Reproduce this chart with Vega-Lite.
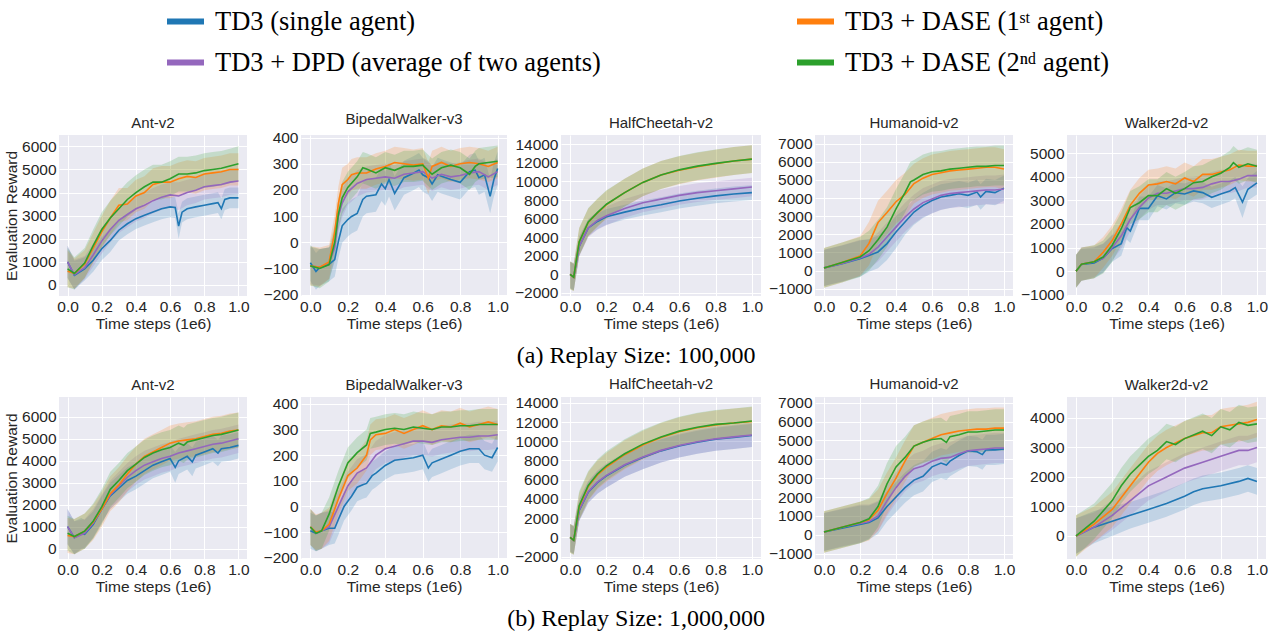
{
"$schema":"https://vega.github.io/schema/vega-lite/v6.json",
"background":"white",
"padding":{"left":4,"top":0,"right":4,"bottom":4},
"datasets":{
"a1":[
{"s":"T","x":0,"y":1000,"l":300,"h":1700},{"s":"T","x":0.04,"y":420,"l":-200,"h":1050},{"s":"T","x":0.1,"y":700,"l":200,"h":1200},{"s":"T","x":0.15,"y":1070,"l":570,"h":1570},{"s":"T","x":0.2,"y":1570,"l":1070,"h":2070},{"s":"T","x":0.25,"y":1930,"l":1430,"h":2430},{"s":"T","x":0.3,"y":2370,"l":1920,"h":2820},{"s":"T","x":0.35,"y":2650,"l":2200,"h":3100},{"s":"T","x":0.4,"y":2870,"l":2420,"h":3320},{"s":"T","x":0.45,"y":3020,"l":2570,"h":3470},{"s":"T","x":0.5,"y":3160,"l":2710,"h":3610},{"s":"T","x":0.55,"y":3300,"l":2850,"h":3750},{"s":"T","x":0.6,"y":3380,"l":2930,"h":3830},{"s":"T","x":0.63,"y":3350,"l":2900,"h":3800},{"s":"T","x":0.65,"y":2550,"l":2000,"h":3100},{"s":"T","x":0.67,"y":3150,"l":2700,"h":3600},{"s":"T","x":0.7,"y":3300,"l":2850,"h":3750},{"s":"T","x":0.75,"y":3380,"l":2930,"h":3830},{"s":"T","x":0.8,"y":3450,"l":3000,"h":3900},{"s":"T","x":0.85,"y":3520,"l":3070,"h":3970},{"s":"T","x":0.88,"y":3560,"l":3110,"h":4010},{"s":"T","x":0.9,"y":3300,"l":2850,"h":3750},{"s":"T","x":0.92,"y":3700,"l":3250,"h":4150},{"s":"T","x":0.95,"y":3770,"l":3320,"h":4220},{"s":"T","x":1,"y":3770,"l":3320,"h":4220},
{"s":"P","x":0,"y":1000,"l":300,"h":1700},{"s":"P","x":0.04,"y":450,"l":-200,"h":1100},{"s":"P","x":0.1,"y":750,"l":250,"h":1250},{"s":"P","x":0.15,"y":1300,"l":800,"h":1800},{"s":"P","x":0.2,"y":1900,"l":1350,"h":2450},{"s":"P","x":0.25,"y":2400,"l":1850,"h":2950},{"s":"P","x":0.3,"y":2800,"l":2250,"h":3350},{"s":"P","x":0.35,"y":3050,"l":2500,"h":3600},{"s":"P","x":0.4,"y":3300,"l":2750,"h":3850},{"s":"P","x":0.45,"y":3450,"l":2900,"h":4000},{"s":"P","x":0.5,"y":3650,"l":3100,"h":4200},{"s":"P","x":0.55,"y":3800,"l":3250,"h":4350},{"s":"P","x":0.6,"y":3900,"l":3350,"h":4450},{"s":"P","x":0.65,"y":3850,"l":3250,"h":4450},{"s":"P","x":0.7,"y":4000,"l":3450,"h":4550},{"s":"P","x":0.75,"y":4100,"l":3550,"h":4650},{"s":"P","x":0.8,"y":4250,"l":3700,"h":4800},{"s":"P","x":0.85,"y":4300,"l":3750,"h":4850},{"s":"P","x":0.9,"y":4350,"l":3800,"h":4900},{"s":"P","x":0.95,"y":4450,"l":3900,"h":5000},{"s":"P","x":1,"y":4500,"l":3950,"h":5050},
{"s":"O","x":0,"y":600,"l":-100,"h":1500},{"s":"O","x":0.04,"y":500,"l":-150,"h":1150},{"s":"O","x":0.1,"y":900,"l":300,"h":1500},{"s":"O","x":0.15,"y":1600,"l":950,"h":2250},{"s":"O","x":0.2,"y":2300,"l":1600,"h":3000},{"s":"O","x":0.25,"y":2900,"l":2150,"h":3650},{"s":"O","x":0.3,"y":3450,"l":2700,"h":4200},{"s":"O","x":0.35,"y":3500,"l":2800,"h":4200},{"s":"O","x":0.4,"y":3850,"l":3150,"h":4550},{"s":"O","x":0.45,"y":4000,"l":3300,"h":4700},{"s":"O","x":0.5,"y":4350,"l":3650,"h":5050},{"s":"O","x":0.55,"y":4450,"l":3750,"h":5150},{"s":"O","x":0.6,"y":4450,"l":3750,"h":5150},{"s":"O","x":0.65,"y":4600,"l":3900,"h":5300},{"s":"O","x":0.7,"y":4700,"l":4000,"h":5400},{"s":"O","x":0.75,"y":4650,"l":3950,"h":5350},{"s":"O","x":0.8,"y":4800,"l":4100,"h":5500},{"s":"O","x":0.85,"y":4850,"l":4150,"h":5550},{"s":"O","x":0.9,"y":4900,"l":4200,"h":5600},{"s":"O","x":0.95,"y":5000,"l":4300,"h":5700},{"s":"O","x":1,"y":5000,"l":4300,"h":5700},
{"s":"G","x":0,"y":700,"l":-100,"h":1600},{"s":"G","x":0.04,"y":500,"l":-200,"h":1200},{"s":"G","x":0.1,"y":950,"l":300,"h":1600},{"s":"G","x":0.15,"y":1700,"l":1000,"h":2400},{"s":"G","x":0.2,"y":2400,"l":1650,"h":3150},{"s":"G","x":0.25,"y":2900,"l":2150,"h":3650},{"s":"G","x":0.3,"y":3300,"l":2550,"h":4050},{"s":"G","x":0.35,"y":3700,"l":2950,"h":4450},{"s":"G","x":0.4,"y":4000,"l":3250,"h":4750},{"s":"G","x":0.45,"y":4250,"l":3500,"h":5000},{"s":"G","x":0.5,"y":4450,"l":3700,"h":5200},{"s":"G","x":0.55,"y":4450,"l":3700,"h":5200},{"s":"G","x":0.6,"y":4600,"l":3850,"h":5350},{"s":"G","x":0.65,"y":4800,"l":4050,"h":5550},{"s":"G","x":0.7,"y":4800,"l":4050,"h":5550},{"s":"G","x":0.75,"y":4850,"l":4100,"h":5600},{"s":"G","x":0.8,"y":4950,"l":4200,"h":5700},{"s":"G","x":0.85,"y":5000,"l":4250,"h":5750},{"s":"G","x":0.9,"y":5050,"l":4300,"h":5800},{"s":"G","x":0.95,"y":5150,"l":4400,"h":5900},{"s":"G","x":1,"y":5250,"l":4500,"h":6000}
],
"a2":[
{"s":"T","x":0,"y":-78,"l":-148,"h":-8},{"s":"T","x":0.03,"y":-111,"l":-181,"h":-41},{"s":"T","x":0.05,"y":-96,"l":-166,"h":-26},{"s":"T","x":0.1,"y":-84,"l":-149,"h":-19},{"s":"T","x":0.13,"y":-66,"l":-131,"h":-1},{"s":"T","x":0.15,"y":5,"l":-60,"h":70},{"s":"T","x":0.17,"y":63,"l":-2,"h":128},{"s":"T","x":0.2,"y":87,"l":22,"h":152},{"s":"T","x":0.22,"y":99,"l":34,"h":164},{"s":"T","x":0.25,"y":110,"l":45,"h":175},{"s":"T","x":0.28,"y":164,"l":99,"h":229},{"s":"T","x":0.3,"y":176,"l":111,"h":241},{"s":"T","x":0.35,"y":182,"l":117,"h":247},{"s":"T","x":0.38,"y":223,"l":158,"h":288},{"s":"T","x":0.4,"y":205,"l":140,"h":270},{"s":"T","x":0.42,"y":240,"l":175,"h":305},{"s":"T","x":0.45,"y":187,"l":122,"h":252},{"s":"T","x":0.5,"y":247,"l":182,"h":312},{"s":"T","x":0.55,"y":264,"l":199,"h":329},{"s":"T","x":0.58,"y":276,"l":211,"h":341},{"s":"T","x":0.6,"y":258,"l":193,"h":323},{"s":"T","x":0.63,"y":247,"l":182,"h":312},{"s":"T","x":0.65,"y":223,"l":158,"h":288},{"s":"T","x":0.68,"y":258,"l":193,"h":323},{"s":"T","x":0.7,"y":252,"l":187,"h":317},{"s":"T","x":0.75,"y":240,"l":175,"h":305},{"s":"T","x":0.8,"y":229,"l":164,"h":294},{"s":"T","x":0.85,"y":270,"l":205,"h":335},{"s":"T","x":0.88,"y":276,"l":211,"h":341},{"s":"T","x":0.9,"y":247,"l":182,"h":312},{"s":"T","x":0.93,"y":258,"l":193,"h":323},{"s":"T","x":0.96,"y":176,"l":111,"h":241},{"s":"T","x":0.98,"y":240,"l":175,"h":305},{"s":"T","x":1,"y":282,"l":217,"h":347},
{"s":"P","x":0,"y":-90,"l":-160,"h":-20},{"s":"P","x":0.05,"y":-95,"l":-165,"h":-25},{"s":"P","x":0.1,"y":-80,"l":-140,"h":-20},{"s":"P","x":0.13,"y":-20,"l":-75,"h":35},{"s":"P","x":0.15,"y":100,"l":45,"h":155},{"s":"P","x":0.17,"y":150,"l":95,"h":205},{"s":"P","x":0.2,"y":193,"l":143,"h":243},{"s":"P","x":0.25,"y":225,"l":175,"h":275},{"s":"P","x":0.3,"y":240,"l":190,"h":290},{"s":"P","x":0.35,"y":245,"l":195,"h":295},{"s":"P","x":0.4,"y":250,"l":200,"h":300},{"s":"P","x":0.45,"y":245,"l":195,"h":295},{"s":"P","x":0.5,"y":260,"l":210,"h":310},{"s":"P","x":0.55,"y":265,"l":215,"h":315},{"s":"P","x":0.6,"y":270,"l":220,"h":320},{"s":"P","x":0.65,"y":245,"l":195,"h":295},{"s":"P","x":0.7,"y":260,"l":210,"h":310},{"s":"P","x":0.75,"y":250,"l":200,"h":300},{"s":"P","x":0.8,"y":255,"l":205,"h":305},{"s":"P","x":0.85,"y":265,"l":215,"h":315},{"s":"P","x":0.9,"y":270,"l":220,"h":320},{"s":"P","x":0.95,"y":250,"l":200,"h":300},{"s":"P","x":1,"y":270,"l":220,"h":320},
{"s":"O","x":0,"y":-90,"l":-165,"h":-15},{"s":"O","x":0.05,"y":-95,"l":-170,"h":-20},{"s":"O","x":0.1,"y":-75,"l":-140,"h":-10},{"s":"O","x":0.13,"y":40,"l":-25,"h":105},{"s":"O","x":0.15,"y":150,"l":85,"h":215},{"s":"O","x":0.17,"y":220,"l":155,"h":285},{"s":"O","x":0.2,"y":240,"l":180,"h":300},{"s":"O","x":0.22,"y":258,"l":198,"h":318},{"s":"O","x":0.25,"y":265,"l":205,"h":325},{"s":"O","x":0.3,"y":265,"l":205,"h":325},{"s":"O","x":0.35,"y":280,"l":220,"h":340},{"s":"O","x":0.4,"y":290,"l":230,"h":350},{"s":"O","x":0.45,"y":305,"l":245,"h":365},{"s":"O","x":0.5,"y":300,"l":240,"h":360},{"s":"O","x":0.55,"y":295,"l":235,"h":355},{"s":"O","x":0.6,"y":300,"l":240,"h":360},{"s":"O","x":0.63,"y":245,"l":185,"h":305},{"s":"O","x":0.65,"y":290,"l":230,"h":350},{"s":"O","x":0.7,"y":305,"l":245,"h":365},{"s":"O","x":0.75,"y":290,"l":230,"h":350},{"s":"O","x":0.8,"y":300,"l":240,"h":360},{"s":"O","x":0.85,"y":305,"l":245,"h":365},{"s":"O","x":0.9,"y":300,"l":240,"h":360},{"s":"O","x":0.95,"y":290,"l":230,"h":350},{"s":"O","x":1,"y":305,"l":245,"h":365},
{"s":"G","x":0,"y":-90,"l":-165,"h":-15},{"s":"G","x":0.05,"y":-100,"l":-175,"h":-25},{"s":"G","x":0.1,"y":-85,"l":-150,"h":-20},{"s":"G","x":0.13,"y":0,"l":-65,"h":65},{"s":"G","x":0.15,"y":110,"l":50,"h":170},{"s":"G","x":0.17,"y":170,"l":110,"h":230},{"s":"G","x":0.2,"y":210,"l":150,"h":270},{"s":"G","x":0.25,"y":250,"l":190,"h":310},{"s":"G","x":0.28,"y":285,"l":225,"h":345},{"s":"G","x":0.3,"y":280,"l":220,"h":340},{"s":"G","x":0.35,"y":265,"l":205,"h":325},{"s":"G","x":0.4,"y":285,"l":225,"h":345},{"s":"G","x":0.45,"y":275,"l":215,"h":335},{"s":"G","x":0.5,"y":290,"l":230,"h":350},{"s":"G","x":0.55,"y":290,"l":230,"h":350},{"s":"G","x":0.6,"y":295,"l":235,"h":355},{"s":"G","x":0.65,"y":260,"l":200,"h":320},{"s":"G","x":0.7,"y":285,"l":225,"h":345},{"s":"G","x":0.75,"y":295,"l":235,"h":355},{"s":"G","x":0.8,"y":285,"l":225,"h":345},{"s":"G","x":0.85,"y":260,"l":200,"h":320},{"s":"G","x":0.88,"y":290,"l":230,"h":350},{"s":"G","x":0.9,"y":300,"l":240,"h":360},{"s":"G","x":0.95,"y":305,"l":245,"h":365},{"s":"G","x":1,"y":310,"l":250,"h":370}
],
"a3":[
{"s":"T","x":0,"y":0,"l":-1500,"h":1400},{"s":"T","x":0.02,"y":-300,"l":-1700,"h":1100},{"s":"T","x":0.05,"y":3000,"l":2000,"h":4000},{"s":"T","x":0.1,"y":5000,"l":4100,"h":5900},{"s":"T","x":0.15,"y":5700,"l":4850,"h":6550},{"s":"T","x":0.2,"y":6200,"l":5350,"h":7050},{"s":"T","x":0.3,"y":6700,"l":5900,"h":7500},{"s":"T","x":0.4,"y":7150,"l":6350,"h":7950},{"s":"T","x":0.5,"y":7500,"l":6700,"h":8300},{"s":"T","x":0.6,"y":7900,"l":7100,"h":8700},{"s":"T","x":0.7,"y":8200,"l":7400,"h":9000},{"s":"T","x":0.8,"y":8450,"l":7650,"h":9250},{"s":"T","x":0.9,"y":8650,"l":7850,"h":9450},{"s":"T","x":1,"y":8800,"l":8000,"h":9600},
{"s":"P","x":0,"y":0,"l":-1500,"h":1400},{"s":"P","x":0.02,"y":-300,"l":-1700,"h":1100},{"s":"P","x":0.05,"y":3000,"l":1900,"h":4100},{"s":"P","x":0.1,"y":5000,"l":4000,"h":6000},{"s":"P","x":0.15,"y":5800,"l":4800,"h":6800},{"s":"P","x":0.2,"y":6300,"l":5300,"h":7300},{"s":"P","x":0.3,"y":7100,"l":6100,"h":8100},{"s":"P","x":0.4,"y":7700,"l":6700,"h":8700},{"s":"P","x":0.5,"y":8100,"l":7100,"h":9100},{"s":"P","x":0.6,"y":8500,"l":7500,"h":9500},{"s":"P","x":0.7,"y":8800,"l":7800,"h":9800},{"s":"P","x":0.8,"y":9000,"l":8000,"h":10000},{"s":"P","x":0.9,"y":9200,"l":8200,"h":10200},{"s":"P","x":1,"y":9400,"l":8400,"h":10400},
{"s":"O","x":0,"y":0,"l":-1600,"h":1400},{"s":"O","x":0.02,"y":-300,"l":-1800,"h":1200},{"s":"O","x":0.05,"y":3500,"l":2000,"h":5000},{"s":"O","x":0.1,"y":5600,"l":4100,"h":7100},{"s":"O","x":0.15,"y":6600,"l":5100,"h":8100},{"s":"O","x":0.2,"y":7500,"l":6000,"h":9000},{"s":"O","x":0.3,"y":8800,"l":7300,"h":10300},{"s":"O","x":0.4,"y":9900,"l":8400,"h":11400},{"s":"O","x":0.5,"y":10700,"l":9200,"h":12200},{"s":"O","x":0.6,"y":11200,"l":9700,"h":12700},{"s":"O","x":0.7,"y":11600,"l":10100,"h":13100},{"s":"O","x":0.8,"y":11900,"l":10400,"h":13400},{"s":"O","x":0.9,"y":12200,"l":10700,"h":13700},{"s":"O","x":1,"y":12400,"l":10900,"h":13900},
{"s":"G","x":0,"y":0,"l":-1600,"h":1400},{"s":"G","x":0.02,"y":-300,"l":-1800,"h":1200},{"s":"G","x":0.05,"y":3500,"l":2000,"h":5000},{"s":"G","x":0.1,"y":5650,"l":4150,"h":7150},{"s":"G","x":0.15,"y":6650,"l":5150,"h":8150},{"s":"G","x":0.2,"y":7550,"l":6050,"h":9050},{"s":"G","x":0.3,"y":8800,"l":7300,"h":10300},{"s":"G","x":0.4,"y":9900,"l":8400,"h":11400},{"s":"G","x":0.5,"y":10700,"l":9200,"h":12200},{"s":"G","x":0.6,"y":11250,"l":9750,"h":12750},{"s":"G","x":0.7,"y":11650,"l":10150,"h":13150},{"s":"G","x":0.8,"y":11950,"l":10450,"h":13450},{"s":"G","x":0.9,"y":12200,"l":10700,"h":13700},{"s":"G","x":1,"y":12400,"l":10900,"h":13900}
],
"a4":[
{"s":"T","x":0,"y":150,"l":-850,"h":1150},{"s":"T","x":0.1,"y":380,"l":-620,"h":1380},{"s":"T","x":0.2,"y":660,"l":-340,"h":1660},{"s":"T","x":0.25,"y":840,"l":-60,"h":1740},{"s":"T","x":0.3,"y":1030,"l":130,"h":1930},{"s":"T","x":0.35,"y":1490,"l":590,"h":2390},{"s":"T","x":0.4,"y":2130,"l":1230,"h":3030},{"s":"T","x":0.45,"y":2680,"l":1980,"h":3380},{"s":"T","x":0.5,"y":3230,"l":2530,"h":3930},{"s":"T","x":0.55,"y":3600,"l":2900,"h":4300},{"s":"T","x":0.6,"y":3870,"l":3170,"h":4570},{"s":"T","x":0.65,"y":4060,"l":3360,"h":4760},{"s":"T","x":0.7,"y":4150,"l":3450,"h":4850},{"s":"T","x":0.75,"y":4240,"l":3540,"h":4940},{"s":"T","x":0.8,"y":4150,"l":3450,"h":4850},{"s":"T","x":0.85,"y":4330,"l":3630,"h":5030},{"s":"T","x":0.87,"y":4060,"l":3360,"h":4760},{"s":"T","x":0.9,"y":4370,"l":3670,"h":5070},{"s":"T","x":0.95,"y":4300,"l":3600,"h":5000},{"s":"T","x":1,"y":4550,"l":3850,"h":5250},
{"s":"P","x":0,"y":150,"l":-850,"h":1150},{"s":"P","x":0.1,"y":400,"l":-600,"h":1400},{"s":"P","x":0.2,"y":700,"l":-300,"h":1700},{"s":"P","x":0.25,"y":900,"l":100,"h":1700},{"s":"P","x":0.3,"y":1300,"l":500,"h":2100},{"s":"P","x":0.35,"y":1850,"l":1050,"h":2650},{"s":"P","x":0.4,"y":2400,"l":1600,"h":3200},{"s":"P","x":0.45,"y":2950,"l":2150,"h":3750},{"s":"P","x":0.5,"y":3400,"l":2600,"h":4200},{"s":"P","x":0.55,"y":3750,"l":2950,"h":4550},{"s":"P","x":0.6,"y":3950,"l":3150,"h":4750},{"s":"P","x":0.65,"y":4150,"l":3350,"h":4950},{"s":"P","x":0.7,"y":4250,"l":3450,"h":5050},{"s":"P","x":0.75,"y":4300,"l":3500,"h":5100},{"s":"P","x":0.8,"y":4350,"l":3550,"h":5150},{"s":"P","x":0.85,"y":4400,"l":3600,"h":5200},{"s":"P","x":0.9,"y":4450,"l":3650,"h":5250},{"s":"P","x":0.95,"y":4450,"l":3650,"h":5250},{"s":"P","x":1,"y":4500,"l":3700,"h":5300},
{"s":"O","x":0,"y":150,"l":-950,"h":1250},{"s":"O","x":0.1,"y":450,"l":-650,"h":1550},{"s":"O","x":0.2,"y":800,"l":-300,"h":1900},{"s":"O","x":0.25,"y":1500,"l":300,"h":2700},{"s":"O","x":0.3,"y":2650,"l":1450,"h":3850},{"s":"O","x":0.35,"y":3200,"l":2000,"h":4400},{"s":"O","x":0.4,"y":3800,"l":2600,"h":5000},{"s":"O","x":0.45,"y":4200,"l":3000,"h":5400},{"s":"O","x":0.5,"y":4800,"l":3700,"h":5900},{"s":"O","x":0.55,"y":5100,"l":4000,"h":6200},{"s":"O","x":0.6,"y":5300,"l":4200,"h":6400},{"s":"O","x":0.65,"y":5400,"l":4300,"h":6500},{"s":"O","x":0.7,"y":5500,"l":4400,"h":6600},{"s":"O","x":0.75,"y":5550,"l":4450,"h":6650},{"s":"O","x":0.8,"y":5600,"l":4500,"h":6700},{"s":"O","x":0.85,"y":5650,"l":4550,"h":6750},{"s":"O","x":0.9,"y":5700,"l":4600,"h":6800},{"s":"O","x":0.95,"y":5700,"l":4600,"h":6800},{"s":"O","x":1,"y":5600,"l":4500,"h":6700},
{"s":"G","x":0,"y":150,"l":-950,"h":1250},{"s":"G","x":0.1,"y":450,"l":-650,"h":1550},{"s":"G","x":0.2,"y":750,"l":-350,"h":1850},{"s":"G","x":0.25,"y":1100,"l":0,"h":2200},{"s":"G","x":0.3,"y":1700,"l":600,"h":2800},{"s":"G","x":0.35,"y":2400,"l":1300,"h":3500},{"s":"G","x":0.4,"y":3400,"l":2300,"h":4500},{"s":"G","x":0.45,"y":4300,"l":3200,"h":5400},{"s":"G","x":0.48,"y":4900,"l":3800,"h":6000},{"s":"G","x":0.5,"y":5000,"l":3900,"h":6100},{"s":"G","x":0.55,"y":5300,"l":4200,"h":6400},{"s":"G","x":0.6,"y":5450,"l":4350,"h":6550},{"s":"G","x":0.65,"y":5500,"l":4400,"h":6600},{"s":"G","x":0.7,"y":5600,"l":4500,"h":6700},{"s":"G","x":0.75,"y":5650,"l":4550,"h":6750},{"s":"G","x":0.8,"y":5700,"l":4600,"h":6800},{"s":"G","x":0.85,"y":5750,"l":4650,"h":6850},{"s":"G","x":0.9,"y":5750,"l":4650,"h":6850},{"s":"G","x":0.95,"y":5800,"l":4700,"h":6900},{"s":"G","x":1,"y":5800,"l":4700,"h":6900}
],
"a5":[
{"s":"T","x":0,"y":0,"l":-700,"h":700},{"s":"T","x":0.03,"y":285,"l":-400,"h":950},{"s":"T","x":0.1,"y":350,"l":-300,"h":1000},{"s":"T","x":0.15,"y":560,"l":-50,"h":1170},{"s":"T","x":0.2,"y":960,"l":400,"h":1520},{"s":"T","x":0.25,"y":1170,"l":650,"h":1690},{"s":"T","x":0.28,"y":1840,"l":1340,"h":2340},{"s":"T","x":0.3,"y":1700,"l":1200,"h":2200},{"s":"T","x":0.35,"y":2660,"l":2160,"h":3160},{"s":"T","x":0.4,"y":2660,"l":2160,"h":3160},{"s":"T","x":0.45,"y":3200,"l":2750,"h":3650},{"s":"T","x":0.5,"y":3060,"l":2610,"h":3510},{"s":"T","x":0.55,"y":3330,"l":2880,"h":3780},{"s":"T","x":0.6,"y":3270,"l":2820,"h":3720},{"s":"T","x":0.65,"y":3400,"l":2950,"h":3850},{"s":"T","x":0.7,"y":3330,"l":2880,"h":3780},{"s":"T","x":0.75,"y":3130,"l":2680,"h":3580},{"s":"T","x":0.8,"y":3270,"l":2820,"h":3720},{"s":"T","x":0.85,"y":3400,"l":2950,"h":3850},{"s":"T","x":0.88,"y":3540,"l":3090,"h":3990},{"s":"T","x":0.92,"y":2930,"l":2250,"h":3600},{"s":"T","x":0.95,"y":3470,"l":3000,"h":3950},{"s":"T","x":1,"y":3740,"l":3250,"h":4250},
{"s":"P","x":0,"y":0,"l":-700,"h":700},{"s":"P","x":0.03,"y":300,"l":-400,"h":1000},{"s":"P","x":0.1,"y":400,"l":-250,"h":1050},{"s":"P","x":0.15,"y":550,"l":-50,"h":1150},{"s":"P","x":0.2,"y":1000,"l":450,"h":1550},{"s":"P","x":0.25,"y":1500,"l":950,"h":2050},{"s":"P","x":0.3,"y":2200,"l":1700,"h":2700},{"s":"P","x":0.35,"y":2700,"l":2200,"h":3200},{"s":"P","x":0.4,"y":3100,"l":2600,"h":3600},{"s":"P","x":0.45,"y":3300,"l":2800,"h":3800},{"s":"P","x":0.5,"y":3300,"l":2800,"h":3800},{"s":"P","x":0.55,"y":3400,"l":2900,"h":3900},{"s":"P","x":0.6,"y":3500,"l":3000,"h":4000},{"s":"P","x":0.65,"y":3500,"l":3000,"h":4000},{"s":"P","x":0.7,"y":3550,"l":3050,"h":4050},{"s":"P","x":0.75,"y":3700,"l":3200,"h":4200},{"s":"P","x":0.8,"y":3800,"l":3300,"h":4300},{"s":"P","x":0.85,"y":3800,"l":3300,"h":4300},{"s":"P","x":0.9,"y":3900,"l":3400,"h":4400},{"s":"P","x":0.95,"y":4050,"l":3550,"h":4550},{"s":"P","x":1,"y":4050,"l":3550,"h":4550},
{"s":"O","x":0,"y":0,"l":-700,"h":700},{"s":"O","x":0.03,"y":300,"l":-400,"h":1000},{"s":"O","x":0.1,"y":400,"l":-300,"h":1100},{"s":"O","x":0.15,"y":800,"l":150,"h":1450},{"s":"O","x":0.2,"y":1300,"l":650,"h":1950},{"s":"O","x":0.25,"y":2000,"l":1350,"h":2650},{"s":"O","x":0.3,"y":2800,"l":2150,"h":3450},{"s":"O","x":0.35,"y":3300,"l":2650,"h":3950},{"s":"O","x":0.4,"y":3650,"l":3000,"h":4300},{"s":"O","x":0.45,"y":3700,"l":3050,"h":4350},{"s":"O","x":0.5,"y":3800,"l":3150,"h":4450},{"s":"O","x":0.55,"y":3700,"l":3050,"h":4350},{"s":"O","x":0.6,"y":3950,"l":3300,"h":4600},{"s":"O","x":0.65,"y":3800,"l":3150,"h":4450},{"s":"O","x":0.7,"y":4100,"l":3450,"h":4750},{"s":"O","x":0.75,"y":4100,"l":3450,"h":4750},{"s":"O","x":0.8,"y":4200,"l":3550,"h":4850},{"s":"O","x":0.85,"y":4300,"l":3650,"h":4950},{"s":"O","x":0.9,"y":4500,"l":3850,"h":5150},{"s":"O","x":0.95,"y":4450,"l":3800,"h":5100},{"s":"O","x":1,"y":4450,"l":3800,"h":5100},
{"s":"G","x":0,"y":0,"l":-700,"h":700},{"s":"G","x":0.03,"y":300,"l":-400,"h":1000},{"s":"G","x":0.1,"y":400,"l":-300,"h":1100},{"s":"G","x":0.15,"y":600,"l":-100,"h":1300},{"s":"G","x":0.2,"y":1100,"l":400,"h":1800},{"s":"G","x":0.25,"y":1800,"l":1100,"h":2500},{"s":"G","x":0.3,"y":2700,"l":2000,"h":3400},{"s":"G","x":0.35,"y":2900,"l":2200,"h":3600},{"s":"G","x":0.4,"y":3200,"l":2500,"h":3900},{"s":"G","x":0.45,"y":3200,"l":2500,"h":3900},{"s":"G","x":0.5,"y":3500,"l":2800,"h":4200},{"s":"G","x":0.55,"y":3300,"l":2600,"h":4000},{"s":"G","x":0.6,"y":3500,"l":2800,"h":4200},{"s":"G","x":0.65,"y":3750,"l":3050,"h":4450},{"s":"G","x":0.7,"y":3800,"l":3100,"h":4500},{"s":"G","x":0.75,"y":4000,"l":3300,"h":4700},{"s":"G","x":0.8,"y":4150,"l":3450,"h":4850},{"s":"G","x":0.85,"y":4400,"l":3700,"h":5100},{"s":"G","x":0.87,"y":4600,"l":3900,"h":5300},{"s":"G","x":0.9,"y":4400,"l":3700,"h":5100},{"s":"G","x":0.95,"y":4550,"l":3850,"h":5250},{"s":"G","x":1,"y":4450,"l":3750,"h":5150}
],
"b1":[
{"s":"T","x":0,"y":1000,"l":200,"h":1800},{"s":"T","x":0.04,"y":500,"l":-250,"h":1250},{"s":"T","x":0.08,"y":700,"l":0,"h":1400},{"s":"T","x":0.1,"y":650,"l":0,"h":1300},{"s":"T","x":0.15,"y":1100,"l":500,"h":1700},{"s":"T","x":0.2,"y":1800,"l":1200,"h":2400},{"s":"T","x":0.25,"y":2400,"l":1800,"h":3000},{"s":"T","x":0.3,"y":2750,"l":2150,"h":3350},{"s":"T","x":0.35,"y":3100,"l":2500,"h":3700},{"s":"T","x":0.4,"y":3300,"l":2700,"h":3900},{"s":"T","x":0.45,"y":3550,"l":2950,"h":4150},{"s":"T","x":0.5,"y":3800,"l":3200,"h":4400},{"s":"T","x":0.55,"y":3950,"l":3350,"h":4550},{"s":"T","x":0.6,"y":4100,"l":3500,"h":4700},{"s":"T","x":0.63,"y":3700,"l":3000,"h":4400},{"s":"T","x":0.65,"y":4000,"l":3400,"h":4600},{"s":"T","x":0.7,"y":4200,"l":3600,"h":4800},{"s":"T","x":0.73,"y":3950,"l":3300,"h":4600},{"s":"T","x":0.75,"y":4250,"l":3650,"h":4850},{"s":"T","x":0.8,"y":4400,"l":3800,"h":5000},{"s":"T","x":0.85,"y":4550,"l":3950,"h":5150},{"s":"T","x":0.88,"y":4350,"l":3750,"h":4950},{"s":"T","x":0.9,"y":4550,"l":3950,"h":5150},{"s":"T","x":0.95,"y":4600,"l":4000,"h":5200},{"s":"T","x":1,"y":4700,"l":4100,"h":5300},
{"s":"P","x":0,"y":1000,"l":200,"h":1800},{"s":"P","x":0.04,"y":500,"l":-250,"h":1250},{"s":"P","x":0.1,"y":700,"l":50,"h":1350},{"s":"P","x":0.15,"y":1150,"l":500,"h":1800},{"s":"P","x":0.2,"y":1800,"l":1150,"h":2450},{"s":"P","x":0.25,"y":2450,"l":1800,"h":3100},{"s":"P","x":0.3,"y":2850,"l":2200,"h":3500},{"s":"P","x":0.35,"y":3250,"l":2600,"h":3900},{"s":"P","x":0.4,"y":3550,"l":2900,"h":4200},{"s":"P","x":0.45,"y":3800,"l":3150,"h":4450},{"s":"P","x":0.5,"y":3950,"l":3300,"h":4600},{"s":"P","x":0.55,"y":4100,"l":3450,"h":4750},{"s":"P","x":0.6,"y":4200,"l":3550,"h":4850},{"s":"P","x":0.65,"y":4350,"l":3700,"h":5000},{"s":"P","x":0.7,"y":4450,"l":3800,"h":5100},{"s":"P","x":0.75,"y":4550,"l":3900,"h":5200},{"s":"P","x":0.8,"y":4650,"l":4000,"h":5300},{"s":"P","x":0.85,"y":4750,"l":4100,"h":5400},{"s":"P","x":0.9,"y":4800,"l":4150,"h":5450},{"s":"P","x":0.95,"y":4900,"l":4250,"h":5550},{"s":"P","x":1,"y":5000,"l":4350,"h":5650},
{"s":"O","x":0,"y":600,"l":-200,"h":1400},{"s":"O","x":0.04,"y":550,"l":-250,"h":1350},{"s":"O","x":0.1,"y":800,"l":0,"h":1600},{"s":"O","x":0.15,"y":1200,"l":400,"h":2000},{"s":"O","x":0.2,"y":1800,"l":1000,"h":2600},{"s":"O","x":0.25,"y":2500,"l":1700,"h":3300},{"s":"O","x":0.3,"y":2900,"l":2100,"h":3700},{"s":"O","x":0.35,"y":3400,"l":2600,"h":4200},{"s":"O","x":0.4,"y":3850,"l":3050,"h":4650},{"s":"O","x":0.45,"y":4200,"l":3400,"h":5000},{"s":"O","x":0.5,"y":4400,"l":3600,"h":5200},{"s":"O","x":0.55,"y":4600,"l":3800,"h":5400},{"s":"O","x":0.6,"y":4800,"l":4000,"h":5600},{"s":"O","x":0.65,"y":4900,"l":4100,"h":5700},{"s":"O","x":0.7,"y":4950,"l":4150,"h":5750},{"s":"O","x":0.75,"y":5000,"l":4200,"h":5800},{"s":"O","x":0.8,"y":5100,"l":4300,"h":5900},{"s":"O","x":0.85,"y":5200,"l":4400,"h":6000},{"s":"O","x":0.9,"y":5250,"l":4450,"h":6050},{"s":"O","x":0.95,"y":5350,"l":4550,"h":6150},{"s":"O","x":1,"y":5400,"l":4600,"h":6200},
{"s":"G","x":0,"y":700,"l":-100,"h":1500},{"s":"G","x":0.04,"y":550,"l":-250,"h":1350},{"s":"G","x":0.1,"y":800,"l":0,"h":1600},{"s":"G","x":0.15,"y":1250,"l":450,"h":2050},{"s":"G","x":0.2,"y":1900,"l":1100,"h":2700},{"s":"G","x":0.25,"y":2700,"l":1900,"h":3500},{"s":"G","x":0.3,"y":3100,"l":2300,"h":3900},{"s":"G","x":0.35,"y":3550,"l":2750,"h":4350},{"s":"G","x":0.4,"y":3850,"l":3050,"h":4650},{"s":"G","x":0.45,"y":4150,"l":3350,"h":4950},{"s":"G","x":0.5,"y":4350,"l":3550,"h":5150},{"s":"G","x":0.55,"y":4500,"l":3700,"h":5300},{"s":"G","x":0.6,"y":4600,"l":3800,"h":5400},{"s":"G","x":0.65,"y":4800,"l":4000,"h":5600},{"s":"G","x":0.68,"y":4700,"l":3900,"h":5500},{"s":"G","x":0.7,"y":4850,"l":4050,"h":5650},{"s":"G","x":0.75,"y":4950,"l":4150,"h":5750},{"s":"G","x":0.8,"y":5050,"l":4250,"h":5850},{"s":"G","x":0.85,"y":5150,"l":4350,"h":5950},{"s":"G","x":0.9,"y":5200,"l":4400,"h":6000},{"s":"G","x":0.95,"y":5300,"l":4500,"h":6100},{"s":"G","x":1,"y":5400,"l":4600,"h":6200}
],
"b2":[
{"s":"T","x":0,"y":-95,"l":-165,"h":-25},{"s":"T","x":0.03,"y":-105,"l":-175,"h":-35},{"s":"T","x":0.06,"y":-95,"l":-165,"h":-25},{"s":"T","x":0.1,"y":-85,"l":-150,"h":-20},{"s":"T","x":0.13,"y":-85,"l":-145,"h":-25},{"s":"T","x":0.15,"y":-50,"l":-110,"h":10},{"s":"T","x":0.18,"y":0,"l":-55,"h":55},{"s":"T","x":0.2,"y":20,"l":-35,"h":75},{"s":"T","x":0.22,"y":40,"l":-15,"h":95},{"s":"T","x":0.25,"y":75,"l":20,"h":130},{"s":"T","x":0.28,"y":85,"l":30,"h":140},{"s":"T","x":0.3,"y":90,"l":35,"h":145},{"s":"T","x":0.33,"y":120,"l":65,"h":175},{"s":"T","x":0.35,"y":130,"l":75,"h":185},{"s":"T","x":0.4,"y":160,"l":105,"h":215},{"s":"T","x":0.45,"y":180,"l":125,"h":235},{"s":"T","x":0.5,"y":185,"l":130,"h":240},{"s":"T","x":0.55,"y":190,"l":135,"h":245},{"s":"T","x":0.6,"y":200,"l":145,"h":255},{"s":"T","x":0.63,"y":150,"l":95,"h":205},{"s":"T","x":0.65,"y":170,"l":115,"h":225},{"s":"T","x":0.7,"y":185,"l":130,"h":240},{"s":"T","x":0.75,"y":200,"l":145,"h":255},{"s":"T","x":0.8,"y":215,"l":160,"h":270},{"s":"T","x":0.85,"y":225,"l":170,"h":280},{"s":"T","x":0.9,"y":225,"l":170,"h":280},{"s":"T","x":0.93,"y":200,"l":145,"h":255},{"s":"T","x":0.97,"y":190,"l":135,"h":245},{"s":"T","x":1,"y":230,"l":175,"h":285},
{"s":"P","x":0,"y":-80,"l":-150,"h":-10},{"s":"P","x":0.03,"y":-105,"l":-175,"h":-35},{"s":"P","x":0.06,"y":-95,"l":-165,"h":-25},{"s":"P","x":0.1,"y":-80,"l":-145,"h":-15},{"s":"P","x":0.15,"y":0,"l":-60,"h":60},{"s":"P","x":0.2,"y":80,"l":25,"h":135},{"s":"P","x":0.25,"y":130,"l":75,"h":185},{"s":"P","x":0.3,"y":150,"l":95,"h":205},{"s":"P","x":0.35,"y":200,"l":145,"h":255},{"s":"P","x":0.4,"y":225,"l":170,"h":280},{"s":"P","x":0.45,"y":235,"l":180,"h":290},{"s":"P","x":0.5,"y":245,"l":190,"h":300},{"s":"P","x":0.55,"y":255,"l":200,"h":310},{"s":"P","x":0.6,"y":255,"l":200,"h":310},{"s":"P","x":0.65,"y":250,"l":195,"h":305},{"s":"P","x":0.7,"y":260,"l":205,"h":315},{"s":"P","x":0.75,"y":265,"l":210,"h":320},{"s":"P","x":0.8,"y":270,"l":215,"h":325},{"s":"P","x":0.85,"y":270,"l":215,"h":325},{"s":"P","x":0.9,"y":275,"l":220,"h":330},{"s":"P","x":0.95,"y":275,"l":220,"h":330},{"s":"P","x":1,"y":280,"l":225,"h":335},
{"s":"O","x":0,"y":-80,"l":-150,"h":-10},{"s":"O","x":0.03,"y":-100,"l":-170,"h":-30},{"s":"O","x":0.06,"y":-95,"l":-165,"h":-25},{"s":"O","x":0.1,"y":-70,"l":-135,"h":-5},{"s":"O","x":0.15,"y":30,"l":-30,"h":90},{"s":"O","x":0.2,"y":120,"l":60,"h":180},{"s":"O","x":0.25,"y":150,"l":90,"h":210},{"s":"O","x":0.3,"y":200,"l":140,"h":260},{"s":"O","x":0.32,"y":260,"l":200,"h":320},{"s":"O","x":0.35,"y":280,"l":220,"h":340},{"s":"O","x":0.4,"y":285,"l":225,"h":345},{"s":"O","x":0.45,"y":300,"l":240,"h":360},{"s":"O","x":0.5,"y":285,"l":225,"h":345},{"s":"O","x":0.55,"y":300,"l":240,"h":360},{"s":"O","x":0.6,"y":315,"l":255,"h":375},{"s":"O","x":0.65,"y":300,"l":240,"h":360},{"s":"O","x":0.7,"y":315,"l":255,"h":375},{"s":"O","x":0.75,"y":310,"l":250,"h":370},{"s":"O","x":0.8,"y":325,"l":265,"h":385},{"s":"O","x":0.85,"y":310,"l":250,"h":370},{"s":"O","x":0.9,"y":320,"l":260,"h":380},{"s":"O","x":0.95,"y":330,"l":270,"h":390},{"s":"O","x":1,"y":320,"l":260,"h":380},
{"s":"G","x":0,"y":-80,"l":-150,"h":-10},{"s":"G","x":0.03,"y":-105,"l":-175,"h":-35},{"s":"G","x":0.06,"y":-95,"l":-165,"h":-25},{"s":"G","x":0.1,"y":-30,"l":-95,"h":35},{"s":"G","x":0.15,"y":80,"l":20,"h":140},{"s":"G","x":0.2,"y":170,"l":110,"h":230},{"s":"G","x":0.25,"y":210,"l":150,"h":270},{"s":"G","x":0.3,"y":240,"l":180,"h":300},{"s":"G","x":0.32,"y":285,"l":225,"h":345},{"s":"G","x":0.35,"y":290,"l":230,"h":350},{"s":"G","x":0.4,"y":300,"l":240,"h":360},{"s":"G","x":0.45,"y":305,"l":245,"h":365},{"s":"G","x":0.5,"y":300,"l":240,"h":360},{"s":"G","x":0.55,"y":310,"l":250,"h":370},{"s":"G","x":0.6,"y":305,"l":245,"h":365},{"s":"G","x":0.65,"y":300,"l":240,"h":360},{"s":"G","x":0.7,"y":310,"l":250,"h":370},{"s":"G","x":0.75,"y":310,"l":250,"h":370},{"s":"G","x":0.8,"y":315,"l":255,"h":375},{"s":"G","x":0.85,"y":315,"l":255,"h":375},{"s":"G","x":0.9,"y":320,"l":260,"h":380},{"s":"G","x":0.95,"y":320,"l":260,"h":380},{"s":"G","x":1,"y":320,"l":260,"h":380}
],
"b3":[
{"s":"T","x":0,"y":0,"l":-1500,"h":1400},{"s":"T","x":0.02,"y":-300,"l":-1700,"h":1100},{"s":"T","x":0.05,"y":2800,"l":1700,"h":3900},{"s":"T","x":0.1,"y":4700,"l":3600,"h":5800},{"s":"T","x":0.15,"y":5700,"l":4550,"h":6850},{"s":"T","x":0.2,"y":6400,"l":5200,"h":7600},{"s":"T","x":0.3,"y":7500,"l":6300,"h":8700},{"s":"T","x":0.4,"y":8300,"l":7100,"h":9500},{"s":"T","x":0.5,"y":9000,"l":7800,"h":10200},{"s":"T","x":0.6,"y":9500,"l":8300,"h":10700},{"s":"T","x":0.7,"y":9900,"l":8700,"h":11100},{"s":"T","x":0.8,"y":10200,"l":9000,"h":11400},{"s":"T","x":0.9,"y":10400,"l":9200,"h":11600},{"s":"T","x":1,"y":10600,"l":9400,"h":11800},
{"s":"P","x":0,"y":0,"l":-1500,"h":1400},{"s":"P","x":0.02,"y":-300,"l":-1700,"h":1100},{"s":"P","x":0.05,"y":2850,"l":1700,"h":4000},{"s":"P","x":0.1,"y":4750,"l":3600,"h":5900},{"s":"P","x":0.15,"y":5750,"l":4550,"h":6950},{"s":"P","x":0.2,"y":6450,"l":5200,"h":7700},{"s":"P","x":0.3,"y":7550,"l":6300,"h":8800},{"s":"P","x":0.4,"y":8350,"l":7100,"h":9600},{"s":"P","x":0.5,"y":9050,"l":7800,"h":10300},{"s":"P","x":0.6,"y":9550,"l":8300,"h":10800},{"s":"P","x":0.7,"y":9950,"l":8700,"h":11200},{"s":"P","x":0.8,"y":10250,"l":9000,"h":11500},{"s":"P","x":0.9,"y":10450,"l":9200,"h":11700},{"s":"P","x":1,"y":10650,"l":9400,"h":11900},
{"s":"O","x":0,"y":0,"l":-1600,"h":1400},{"s":"O","x":0.02,"y":-300,"l":-1800,"h":1200},{"s":"O","x":0.05,"y":3200,"l":1800,"h":4600},{"s":"O","x":0.1,"y":5300,"l":3800,"h":6800},{"s":"O","x":0.15,"y":6500,"l":5000,"h":8000},{"s":"O","x":0.2,"y":7300,"l":5800,"h":8800},{"s":"O","x":0.3,"y":8600,"l":7100,"h":10100},{"s":"O","x":0.4,"y":9600,"l":8100,"h":11100},{"s":"O","x":0.5,"y":10400,"l":8900,"h":11900},{"s":"O","x":0.6,"y":11000,"l":9500,"h":12500},{"s":"O","x":0.7,"y":11400,"l":9900,"h":12900},{"s":"O","x":0.8,"y":11700,"l":10200,"h":13200},{"s":"O","x":0.9,"y":11900,"l":10400,"h":13400},{"s":"O","x":1,"y":12050,"l":10550,"h":13550},
{"s":"G","x":0,"y":0,"l":-1600,"h":1400},{"s":"G","x":0.02,"y":-300,"l":-1800,"h":1200},{"s":"G","x":0.05,"y":3300,"l":1800,"h":4800},{"s":"G","x":0.1,"y":5400,"l":3900,"h":6900},{"s":"G","x":0.15,"y":6600,"l":5100,"h":8100},{"s":"G","x":0.2,"y":7450,"l":5950,"h":8950},{"s":"G","x":0.3,"y":8700,"l":7200,"h":10200},{"s":"G","x":0.4,"y":9700,"l":8200,"h":11200},{"s":"G","x":0.5,"y":10450,"l":8950,"h":11950},{"s":"G","x":0.6,"y":11050,"l":9550,"h":12550},{"s":"G","x":0.7,"y":11450,"l":9950,"h":12950},{"s":"G","x":0.8,"y":11750,"l":10250,"h":13250},{"s":"G","x":0.9,"y":11900,"l":10400,"h":13400},{"s":"G","x":1,"y":12100,"l":10600,"h":13600}
],
"b4":[
{"s":"T","x":0,"y":150,"l":-850,"h":1150},{"s":"T","x":0.1,"y":350,"l":-650,"h":1350},{"s":"T","x":0.2,"y":550,"l":-450,"h":1550},{"s":"T","x":0.25,"y":650,"l":-250,"h":1550},{"s":"T","x":0.3,"y":900,"l":50,"h":1750},{"s":"T","x":0.35,"y":1500,"l":700,"h":2300},{"s":"T","x":0.4,"y":2000,"l":1200,"h":2800},{"s":"T","x":0.45,"y":2500,"l":1700,"h":3300},{"s":"T","x":0.5,"y":2900,"l":2100,"h":3700},{"s":"T","x":0.55,"y":3100,"l":2300,"h":3900},{"s":"T","x":0.6,"y":3600,"l":2800,"h":4400},{"s":"T","x":0.65,"y":3800,"l":3000,"h":4600},{"s":"T","x":0.68,"y":3700,"l":2900,"h":4500},{"s":"T","x":0.7,"y":3900,"l":3100,"h":4700},{"s":"T","x":0.75,"y":4200,"l":3400,"h":5000},{"s":"T","x":0.8,"y":4450,"l":3650,"h":5250},{"s":"T","x":0.85,"y":4400,"l":3600,"h":5200},{"s":"T","x":0.88,"y":4250,"l":3450,"h":5050},{"s":"T","x":0.9,"y":4500,"l":3700,"h":5300},{"s":"T","x":0.95,"y":4500,"l":3700,"h":5300},{"s":"T","x":1,"y":4550,"l":3750,"h":5350},
{"s":"P","x":0,"y":150,"l":-850,"h":1150},{"s":"P","x":0.1,"y":400,"l":-600,"h":1400},{"s":"P","x":0.2,"y":600,"l":-400,"h":1600},{"s":"P","x":0.25,"y":700,"l":-200,"h":1600},{"s":"P","x":0.3,"y":1000,"l":200,"h":1800},{"s":"P","x":0.35,"y":1800,"l":1000,"h":2600},{"s":"P","x":0.4,"y":2500,"l":1700,"h":3300},{"s":"P","x":0.45,"y":3100,"l":2300,"h":3900},{"s":"P","x":0.5,"y":3500,"l":2700,"h":4300},{"s":"P","x":0.55,"y":3650,"l":2850,"h":4450},{"s":"P","x":0.6,"y":3900,"l":3100,"h":4700},{"s":"P","x":0.65,"y":4050,"l":3250,"h":4850},{"s":"P","x":0.7,"y":4100,"l":3300,"h":4900},{"s":"P","x":0.75,"y":4300,"l":3500,"h":5100},{"s":"P","x":0.8,"y":4450,"l":3650,"h":5250},{"s":"P","x":0.85,"y":4500,"l":3700,"h":5300},{"s":"P","x":0.9,"y":4550,"l":3750,"h":5350},{"s":"P","x":0.95,"y":4600,"l":3800,"h":5400},{"s":"P","x":1,"y":4600,"l":3800,"h":5400},
{"s":"O","x":0,"y":150,"l":-950,"h":1250},{"s":"O","x":0.1,"y":400,"l":-700,"h":1500},{"s":"O","x":0.2,"y":650,"l":-450,"h":1750},{"s":"O","x":0.25,"y":800,"l":-300,"h":1900},{"s":"O","x":0.3,"y":1300,"l":200,"h":2400},{"s":"O","x":0.35,"y":2200,"l":1100,"h":3300},{"s":"O","x":0.4,"y":3000,"l":1900,"h":4100},{"s":"O","x":0.45,"y":3900,"l":2800,"h":5000},{"s":"O","x":0.5,"y":4700,"l":3600,"h":5800},{"s":"O","x":0.55,"y":4900,"l":3800,"h":6000},{"s":"O","x":0.6,"y":5100,"l":4000,"h":6200},{"s":"O","x":0.65,"y":5300,"l":4200,"h":6400},{"s":"O","x":0.7,"y":5400,"l":4300,"h":6500},{"s":"O","x":0.75,"y":5500,"l":4400,"h":6600},{"s":"O","x":0.8,"y":5550,"l":4450,"h":6650},{"s":"O","x":0.85,"y":5600,"l":4500,"h":6700},{"s":"O","x":0.9,"y":5600,"l":4500,"h":6700},{"s":"O","x":0.95,"y":5650,"l":4550,"h":6750},{"s":"O","x":1,"y":5650,"l":4550,"h":6750},
{"s":"G","x":0,"y":150,"l":-950,"h":1250},{"s":"G","x":0.1,"y":400,"l":-700,"h":1500},{"s":"G","x":0.2,"y":650,"l":-450,"h":1750},{"s":"G","x":0.25,"y":850,"l":-250,"h":1950},{"s":"G","x":0.3,"y":1500,"l":400,"h":2600},{"s":"G","x":0.35,"y":2700,"l":1600,"h":3800},{"s":"G","x":0.4,"y":3600,"l":2500,"h":4700},{"s":"G","x":0.45,"y":4100,"l":3000,"h":5200},{"s":"G","x":0.5,"y":4700,"l":3600,"h":5800},{"s":"G","x":0.55,"y":4900,"l":3800,"h":6000},{"s":"G","x":0.6,"y":5050,"l":3950,"h":6150},{"s":"G","x":0.65,"y":5100,"l":4000,"h":6200},{"s":"G","x":0.68,"y":4900,"l":3800,"h":6000},{"s":"G","x":0.7,"y":5200,"l":4100,"h":6300},{"s":"G","x":0.75,"y":5300,"l":4200,"h":6400},{"s":"G","x":0.8,"y":5450,"l":4350,"h":6550},{"s":"G","x":0.85,"y":5450,"l":4350,"h":6550},{"s":"G","x":0.9,"y":5500,"l":4400,"h":6600},{"s":"G","x":0.95,"y":5550,"l":4450,"h":6650},{"s":"G","x":1,"y":5550,"l":4450,"h":6650}
],
"b5":[
{"s":"T","x":0,"y":0,"l":-600,"h":600},{"s":"T","x":0.1,"y":300,"l":-250,"h":850},{"s":"T","x":0.2,"y":500,"l":0,"h":1000},{"s":"T","x":0.3,"y":700,"l":250,"h":1150},{"s":"T","x":0.4,"y":900,"l":450,"h":1350},{"s":"T","x":0.5,"y":1100,"l":650,"h":1550},{"s":"T","x":0.6,"y":1350,"l":900,"h":1800},{"s":"T","x":0.65,"y":1500,"l":1050,"h":1950},{"s":"T","x":0.7,"y":1600,"l":1150,"h":2050},{"s":"T","x":0.8,"y":1700,"l":1250,"h":2150},{"s":"T","x":0.9,"y":1850,"l":1400,"h":2300},{"s":"T","x":0.95,"y":1950,"l":1500,"h":2400},{"s":"T","x":1,"y":1850,"l":1400,"h":2300},
{"s":"P","x":0,"y":0,"l":-600,"h":600},{"s":"P","x":0.1,"y":300,"l":-200,"h":800},{"s":"P","x":0.2,"y":700,"l":200,"h":1200},{"s":"P","x":0.3,"y":1200,"l":700,"h":1700},{"s":"P","x":0.4,"y":1700,"l":1200,"h":2200},{"s":"P","x":0.5,"y":2000,"l":1500,"h":2500},{"s":"P","x":0.6,"y":2300,"l":1800,"h":2800},{"s":"P","x":0.7,"y":2500,"l":2000,"h":3000},{"s":"P","x":0.8,"y":2700,"l":2200,"h":3200},{"s":"P","x":0.9,"y":2900,"l":2400,"h":3400},{"s":"P","x":0.95,"y":2900,"l":2400,"h":3400},{"s":"P","x":1,"y":3000,"l":2500,"h":3500},
{"s":"O","x":0,"y":0,"l":-700,"h":700},{"s":"O","x":0.1,"y":400,"l":-200,"h":1000},{"s":"O","x":0.2,"y":900,"l":300,"h":1500},{"s":"O","x":0.3,"y":1700,"l":1100,"h":2300},{"s":"O","x":0.4,"y":2500,"l":1900,"h":3100},{"s":"O","x":0.45,"y":2800,"l":2200,"h":3400},{"s":"O","x":0.5,"y":3000,"l":2400,"h":3600},{"s":"O","x":0.6,"y":3300,"l":2700,"h":3900},{"s":"O","x":0.7,"y":3500,"l":2900,"h":4100},{"s":"O","x":0.75,"y":3500,"l":2900,"h":4100},{"s":"O","x":0.8,"y":3700,"l":3100,"h":4300},{"s":"O","x":0.85,"y":3750,"l":3150,"h":4350},{"s":"O","x":0.9,"y":3800,"l":3200,"h":4400},{"s":"O","x":0.95,"y":3850,"l":3250,"h":4450},{"s":"O","x":1,"y":3950,"l":3350,"h":4550},
{"s":"G","x":0,"y":0,"l":-700,"h":700},{"s":"G","x":0.1,"y":500,"l":-100,"h":1100},{"s":"G","x":0.2,"y":1200,"l":600,"h":1800},{"s":"G","x":0.25,"y":1700,"l":1100,"h":2300},{"s":"G","x":0.3,"y":2100,"l":1500,"h":2700},{"s":"G","x":0.35,"y":2400,"l":1800,"h":3000},{"s":"G","x":0.4,"y":2700,"l":2100,"h":3300},{"s":"G","x":0.45,"y":2900,"l":2300,"h":3500},{"s":"G","x":0.5,"y":3200,"l":2600,"h":3800},{"s":"G","x":0.55,"y":3100,"l":2500,"h":3700},{"s":"G","x":0.6,"y":3300,"l":2700,"h":3900},{"s":"G","x":0.7,"y":3550,"l":2950,"h":4150},{"s":"G","x":0.75,"y":3400,"l":2800,"h":4000},{"s":"G","x":0.8,"y":3700,"l":3100,"h":4300},{"s":"G","x":0.85,"y":3600,"l":3000,"h":4200},{"s":"G","x":0.9,"y":3850,"l":3250,"h":4450},{"s":"G","x":0.95,"y":3750,"l":3150,"h":4350},{"s":"G","x":1,"y":3800,"l":3200,"h":4400}
]
},
"vconcat":[
{"hconcat":[
{"width":188,"height":161,"title":"Ant-v2","data":{"name":"a1"},
 "encoding":{"x":{"field":"x","type":"quantitative","scale":{"domain":[-0.05,1.05],"nice":false,"zero":false},"axis":{"values":[0,0.2,0.4,0.6,0.8,1],"format":".1f","title":"Time steps (1e6)"}},
  "color":{"field":"s","type":"nominal","scale":{"domain":["T","P","O","G"],"range":["#1f77b4","#9467bd","#ff7f0e","#2ca02c"]},"legend":{"title":null,"labelExpr":"datum.label=='T'?'TD3 (single agent)':datum.label=='O'?'TD3 + DASE (1ˢᵗ agent)':datum.label=='P'?'TD3 + DPD (average of two agents)':'TD3 + DASE (2ⁿᵈ agent)'"}}},
 "layer":[
  {"mark":{"type":"area","opacity":0.2},"encoding":{"y":{"field":"l","type":"quantitative","scale":{"domain":[-476,6490],"nice":false,"zero":false},"axis":{"values":[0,1000,2000,3000,4000,5000,6000],"format":"d","title":"Evaluation Reward"}},"y2":{"field":"h"}}},
  {"mark":{"type":"line","strokeWidth":1.6},"encoding":{"y":{"field":"y","type":"quantitative","axis":{"values":[0,1000,2000,3000,4000,5000,6000],"format":"d","title":"Evaluation Reward"}}}}
 ]},
{"width":206,"height":161,"title":"BipedalWalker-v3","data":{"name":"a2"},
 "encoding":{"x":{"field":"x","type":"quantitative","scale":{"domain":[-0.05,1.05],"nice":false,"zero":false},"axis":{"values":[0,0.2,0.4,0.6,0.8,1],"format":".1f","title":"Time steps (1e6)"}},
  "color":{"field":"s","type":"nominal","scale":{"domain":["T","P","O","G"],"range":["#1f77b4","#9467bd","#ff7f0e","#2ca02c"]},"legend":{"title":null,"labelExpr":"datum.label=='T'?'TD3 (single agent)':datum.label=='O'?'TD3 + DASE (1ˢᵗ agent)':datum.label=='P'?'TD3 + DPD (average of two agents)':'TD3 + DASE (2ⁿᵈ agent)'"}}},
 "layer":[
  {"mark":{"type":"area","opacity":0.2},"encoding":{"y":{"field":"l","type":"quantitative","scale":{"domain":[-205,410],"nice":false,"zero":false},"axis":{"values":[-200,-100,0,100,200,300,400],"format":"d","title":null}},"y2":{"field":"h"}}},
  {"mark":{"type":"line","strokeWidth":1.6},"encoding":{"y":{"field":"y","type":"quantitative","axis":{"values":[-200,-100,0,100,200,300,400],"format":"d","title":null}}}}
 ]},
{"width":200,"height":161,"title":"HalfCheetah-v2","data":{"name":"a3"},
 "encoding":{"x":{"field":"x","type":"quantitative","scale":{"domain":[-0.05,1.05],"nice":false,"zero":false},"axis":{"values":[0,0.2,0.4,0.6,0.8,1],"format":".1f","title":"Time steps (1e6)"}},
  "color":{"field":"s","type":"nominal","scale":{"domain":["T","P","O","G"],"range":["#1f77b4","#9467bd","#ff7f0e","#2ca02c"]},"legend":{"title":null,"labelExpr":"datum.label=='T'?'TD3 (single agent)':datum.label=='O'?'TD3 + DASE (1ˢᵗ agent)':datum.label=='P'?'TD3 + DPD (average of two agents)':'TD3 + DASE (2ⁿᵈ agent)'"}}},
 "layer":[
  {"mark":{"type":"area","opacity":0.2},"encoding":{"y":{"field":"l","type":"quantitative","scale":{"domain":[-2325,15000],"nice":false,"zero":false},"axis":{"values":[-2000,0,2000,4000,6000,8000,10000,12000,14000],"format":"d","title":null}},"y2":{"field":"h"}}},
  {"mark":{"type":"line","strokeWidth":1.6},"encoding":{"y":{"field":"y","type":"quantitative","axis":{"values":[-2000,0,2000,4000,6000,8000,10000,12000,14000],"format":"d","title":null}}}}
 ]},
{"width":198,"height":161,"title":"Humanoid-v2","data":{"name":"a4"},
 "encoding":{"x":{"field":"x","type":"quantitative","scale":{"domain":[-0.05,1.05],"nice":false,"zero":false},"axis":{"values":[0,0.2,0.4,0.6,0.8,1],"format":".1f","title":"Time steps (1e6)"}},
  "color":{"field":"s","type":"nominal","scale":{"domain":["T","P","O","G"],"range":["#1f77b4","#9467bd","#ff7f0e","#2ca02c"]},"legend":{"title":null,"labelExpr":"datum.label=='T'?'TD3 (single agent)':datum.label=='O'?'TD3 + DASE (1ˢᵗ agent)':datum.label=='P'?'TD3 + DPD (average of two agents)':'TD3 + DASE (2ⁿᵈ agent)'"}}},
 "layer":[
  {"mark":{"type":"area","opacity":0.2},"encoding":{"y":{"field":"l","type":"quantitative","scale":{"domain":[-1400,7480],"nice":false,"zero":false},"axis":{"values":[-1000,0,1000,2000,3000,4000,5000,6000,7000],"format":"d","title":null}},"y2":{"field":"h"}}},
  {"mark":{"type":"line","strokeWidth":1.6},"encoding":{"y":{"field":"y","type":"quantitative","axis":{"values":[-1000,0,1000,2000,3000,4000,5000,6000,7000],"format":"d","title":null}}}}
 ]},
{"width":199,"height":161,"title":"Walker2d-v2","data":{"name":"a5"},
 "encoding":{"x":{"field":"x","type":"quantitative","scale":{"domain":[-0.05,1.05],"nice":false,"zero":false},"axis":{"values":[0,0.2,0.4,0.6,0.8,1],"format":".1f","title":"Time steps (1e6)"}},
  "color":{"field":"s","type":"nominal","scale":{"domain":["T","P","O","G"],"range":["#1f77b4","#9467bd","#ff7f0e","#2ca02c"]},"legend":{"title":null,"labelExpr":"datum.label=='T'?'TD3 (single agent)':datum.label=='O'?'TD3 + DASE (1ˢᵗ agent)':datum.label=='P'?'TD3 + DPD (average of two agents)':'TD3 + DASE (2ⁿᵈ agent)'"}}},
 "layer":[
  {"mark":{"type":"area","opacity":0.2},"encoding":{"y":{"field":"l","type":"quantitative","scale":{"domain":[-1050,5770],"nice":false,"zero":false},"axis":{"values":[-1000,0,1000,2000,3000,4000,5000],"format":"d","title":null}},"y2":{"field":"h"}}},
  {"mark":{"type":"line","strokeWidth":1.6},"encoding":{"y":{"field":"y","type":"quantitative","axis":{"values":[-1000,0,1000,2000,3000,4000,5000],"format":"d","title":null}}}}
 ]}
],
"spacing":54,"bounds":"flush",
"resolve":{"scale":{"x":"independent","y":"independent"}},
"title":{"text":"(a) Replay Size: 100,000","orient":"bottom","anchor":"middle","font":"Liberation Serif","fontSize":24,"fontWeight":"normal","color":"#000000","offset":12}
},
{"hconcat":[
{"width":188,"height":162,"title":"Ant-v2","data":{"name":"b1"},
 "encoding":{"x":{"field":"x","type":"quantitative","scale":{"domain":[-0.05,1.05],"nice":false,"zero":false},"axis":{"values":[0,0.2,0.4,0.6,0.8,1],"format":".1f","title":"Time steps (1e6)"}},
  "color":{"field":"s","type":"nominal","scale":{"domain":["T","P","O","G"],"range":["#1f77b4","#9467bd","#ff7f0e","#2ca02c"]},"legend":{"title":null,"labelExpr":"datum.label=='T'?'TD3 (single agent)':datum.label=='O'?'TD3 + DASE (1ˢᵗ agent)':datum.label=='P'?'TD3 + DPD (average of two agents)':'TD3 + DASE (2ⁿᵈ agent)'"}}},
 "layer":[
  {"mark":{"type":"area","opacity":0.2},"encoding":{"y":{"field":"l","type":"quantitative","scale":{"domain":[-470,6900],"nice":false,"zero":false},"axis":{"values":[0,1000,2000,3000,4000,5000,6000],"format":"d","title":"Evaluation Reward"}},"y2":{"field":"h"}}},
  {"mark":{"type":"line","strokeWidth":1.6},"encoding":{"y":{"field":"y","type":"quantitative","axis":{"values":[0,1000,2000,3000,4000,5000,6000],"format":"d","title":"Evaluation Reward"}}}}
 ]},
{"width":206,"height":162,"title":"BipedalWalker-v3","data":{"name":"b2"},
 "encoding":{"x":{"field":"x","type":"quantitative","scale":{"domain":[-0.05,1.05],"nice":false,"zero":false},"axis":{"values":[0,0.2,0.4,0.6,0.8,1],"format":".1f","title":"Time steps (1e6)"}},
  "color":{"field":"s","type":"nominal","scale":{"domain":["T","P","O","G"],"range":["#1f77b4","#9467bd","#ff7f0e","#2ca02c"]},"legend":{"title":null,"labelExpr":"datum.label=='T'?'TD3 (single agent)':datum.label=='O'?'TD3 + DASE (1ˢᵗ agent)':datum.label=='P'?'TD3 + DPD (average of two agents)':'TD3 + DASE (2ⁿᵈ agent)'"}}},
 "layer":[
  {"mark":{"type":"area","opacity":0.2},"encoding":{"y":{"field":"l","type":"quantitative","scale":{"domain":[-205,427],"nice":false,"zero":false},"axis":{"values":[-200,-100,0,100,200,300,400],"format":"d","title":null}},"y2":{"field":"h"}}},
  {"mark":{"type":"line","strokeWidth":1.6},"encoding":{"y":{"field":"y","type":"quantitative","axis":{"values":[-200,-100,0,100,200,300,400],"format":"d","title":null}}}}
 ]},
{"width":200,"height":162,"title":"HalfCheetah-v2","data":{"name":"b3"},
 "encoding":{"x":{"field":"x","type":"quantitative","scale":{"domain":[-0.05,1.05],"nice":false,"zero":false},"axis":{"values":[0,0.2,0.4,0.6,0.8,1],"format":".1f","title":"Time steps (1e6)"}},
  "color":{"field":"s","type":"nominal","scale":{"domain":["T","P","O","G"],"range":["#1f77b4","#9467bd","#ff7f0e","#2ca02c"]},"legend":{"title":null,"labelExpr":"datum.label=='T'?'TD3 (single agent)':datum.label=='O'?'TD3 + DASE (1ˢᵗ agent)':datum.label=='P'?'TD3 + DPD (average of two agents)':'TD3 + DASE (2ⁿᵈ agent)'"}}},
 "layer":[
  {"mark":{"type":"area","opacity":0.2},"encoding":{"y":{"field":"l","type":"quantitative","scale":{"domain":[-2245,14600],"nice":false,"zero":false},"axis":{"values":[-2000,0,2000,4000,6000,8000,10000,12000,14000],"format":"d","title":null}},"y2":{"field":"h"}}},
  {"mark":{"type":"line","strokeWidth":1.6},"encoding":{"y":{"field":"y","type":"quantitative","axis":{"values":[-2000,0,2000,4000,6000,8000,10000,12000,14000],"format":"d","title":null}}}}
 ]},
{"width":198,"height":162,"title":"Humanoid-v2","data":{"name":"b4"},
 "encoding":{"x":{"field":"x","type":"quantitative","scale":{"domain":[-0.05,1.05],"nice":false,"zero":false},"axis":{"values":[0,0.2,0.4,0.6,0.8,1],"format":".1f","title":"Time steps (1e6)"}},
  "color":{"field":"s","type":"nominal","scale":{"domain":["T","P","O","G"],"range":["#1f77b4","#9467bd","#ff7f0e","#2ca02c"]},"legend":{"title":null,"labelExpr":"datum.label=='T'?'TD3 (single agent)':datum.label=='O'?'TD3 + DASE (1ˢᵗ agent)':datum.label=='P'?'TD3 + DPD (average of two agents)':'TD3 + DASE (2ⁿᵈ agent)'"}}},
 "layer":[
  {"mark":{"type":"area","opacity":0.2},"encoding":{"y":{"field":"l","type":"quantitative","scale":{"domain":[-1280,7300],"nice":false,"zero":false},"axis":{"values":[-1000,0,1000,2000,3000,4000,5000,6000,7000],"format":"d","title":null}},"y2":{"field":"h"}}},
  {"mark":{"type":"line","strokeWidth":1.6},"encoding":{"y":{"field":"y","type":"quantitative","axis":{"values":[-1000,0,1000,2000,3000,4000,5000,6000,7000],"format":"d","title":null}}}}
 ]},
{"width":199,"height":162,"title":"Walker2d-v2","data":{"name":"b5"},
 "encoding":{"x":{"field":"x","type":"quantitative","scale":{"domain":[-0.05,1.05],"nice":false,"zero":false},"axis":{"values":[0,0.2,0.4,0.6,0.8,1],"format":".1f","title":"Time steps (1e6)"}},
  "color":{"field":"s","type":"nominal","scale":{"domain":["T","P","O","G"],"range":["#1f77b4","#9467bd","#ff7f0e","#2ca02c"]},"legend":{"title":null,"labelExpr":"datum.label=='T'?'TD3 (single agent)':datum.label=='O'?'TD3 + DASE (1ˢᵗ agent)':datum.label=='P'?'TD3 + DPD (average of two agents)':'TD3 + DASE (2ⁿᵈ agent)'"}}},
 "layer":[
  {"mark":{"type":"area","opacity":0.2},"encoding":{"y":{"field":"l","type":"quantitative","scale":{"domain":[-780,4710],"nice":false,"zero":false},"axis":{"values":[0,1000,2000,3000,4000],"format":"d","title":null}},"y2":{"field":"h"}}},
  {"mark":{"type":"line","strokeWidth":1.6},"encoding":{"y":{"field":"y","type":"quantitative","axis":{"values":[0,1000,2000,3000,4000],"format":"d","title":null}}}}
 ]}
],
"spacing":54,"bounds":"flush",
"resolve":{"scale":{"x":"independent","y":"independent"}},
"title":{"text":"(b) Replay Size: 1,000,000","orient":"bottom","anchor":"middle","font":"Liberation Serif","fontSize":24,"fontWeight":"normal","color":"#000000","offset":12}
}
],
"spacing":262,"bounds":"flush",
"resolve":{"scale":{"x":"independent","y":"independent"}},
"config":{
 "view":{"fill":"#EAEAF2","stroke":null},
 "axis":{"domain":false,"ticks":false,"grid":true,"gridColor":"#FFFFFF","gridWidth":1,"labelOverlap":false,"labelFont":"Liberation Sans","labelFontSize":15.5,"labelColor":"#262626","labelPadding":3,"titleFont":"Liberation Sans","titleFontSize":15.5,"titleFontWeight":"normal","titleColor":"#262626","titlePadding":2},
 "title":{"font":"Liberation Sans","fontSize":15,"fontWeight":"normal","color":"#262626","offset":4,"anchor":"middle"},
 "legend":{"orient":"none","legendX":105,"legendY":-135,"columns":2,"columnPadding":184,"rowPadding":6,"symbolType":"stroke","symbolSize":1369,"symbolStrokeWidth":6,"symbolOpacity":1,"labelFont":"Liberation Serif","labelFontSize":26.5,"labelColor":"#000000","labelOffset":8,"labelLimit":0}
}
}
